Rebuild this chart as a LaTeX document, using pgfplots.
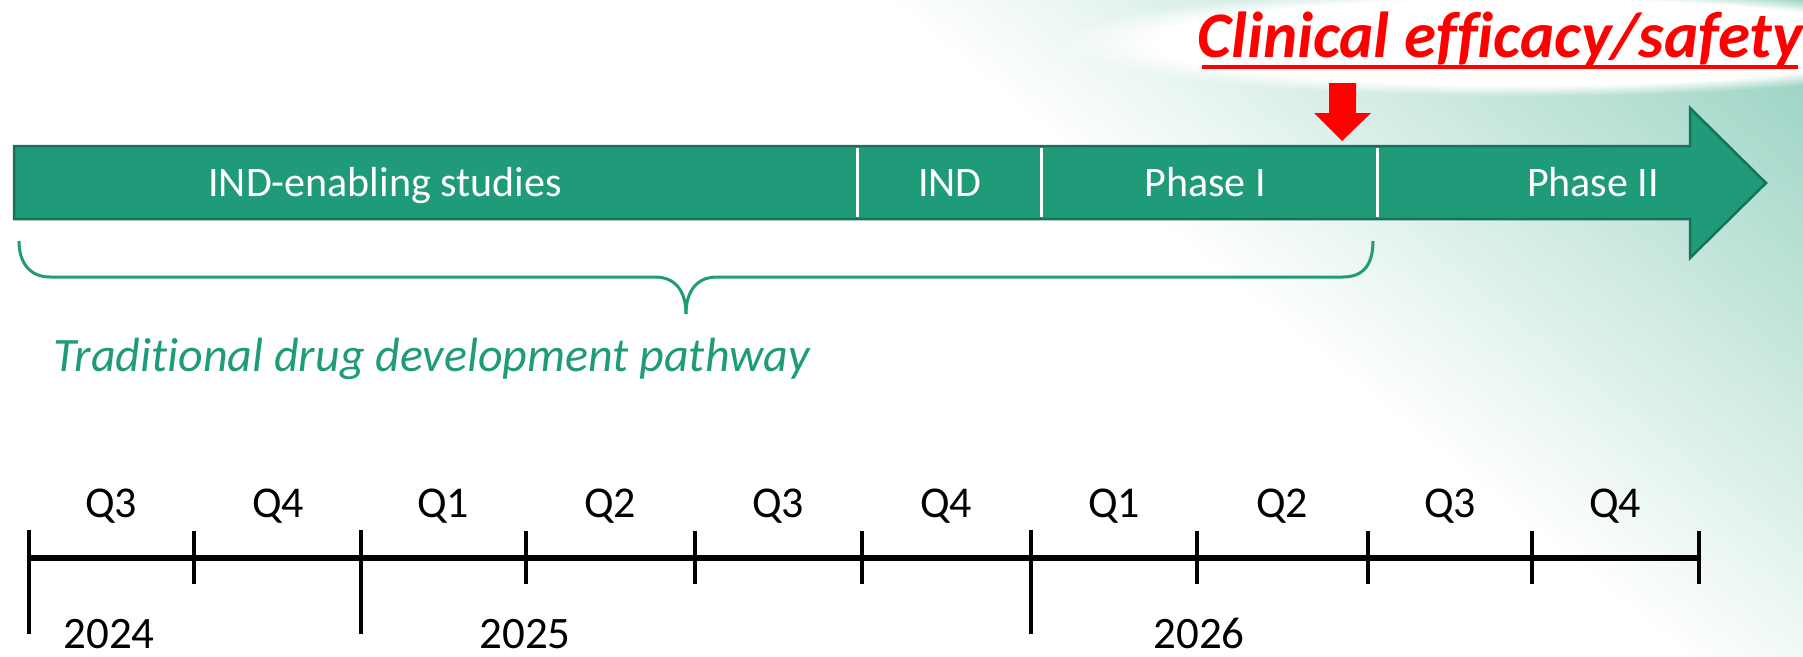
\documentclass[border=0pt]{standalone}
\usepackage{pgfplots}
\pgfplotsset{compat=1.18}
\usepackage{fontspec}
\setmainfont{Carlito}[Ligatures={NoCommon}]
\usetikzlibrary{fadings}
\definecolor{barfill}{RGB}{31,155,122}
\definecolor{bardraw}{RGB}{24,114,90}
\definecolor{mint}{RGB}{142,206,188}
\begin{document}
\begin{tikzpicture}
% background gradient in the upper right corner
\begin{scope}
\clip (0,0) rectangle (1803pt,656pt);
\begin{scope}[transform canvas={shift={(1120pt,656pt)}, rotate=-39.4}]
\shade[bottom color=white, top color=mint] (-2500pt,-150pt) rectangle (2500pt,460pt);
\end{scope}
\fill[white, path fading=circle with fuzzy edge 20 percent] (1060pt,560pt) rectangle (1990pt,668pt);
\fill[white, opacity=0.5, path fading=circle with fuzzy edge 20 percent] (1120pt,575pt) rectangle (1930pt,650pt);
\end{scope}
\begin{axis}[
  at={(0,0)}, anchor=south west,
  width=1803pt, height=656pt, scale only axis,
  xmin=0, xmax=1803, ymin=0, ymax=656, y dir=reverse,
  hide axis, clip=false,
  every node/.append style={inner sep=0pt, outer sep=0pt},
]
% main process arrow
\addplot[fill=barfill, draw=bardraw, line width=2.5pt, line join=miter]
  coordinates {(14,146) (1690,146) (1690,108) (1766,183) (1690,258) (1690,219) (14,219)} -- cycle;
% white dividers
\addplot[white, line width=3pt, unbounded coords=jump]
  coordinates {(857,148) (857,217) (nan,nan) (1041,148) (1041,217) (nan,nan) (1377,148) (1377,217)};
% red marker arrow
\addplot[fill=red, draw=none]
  coordinates {(1329,83) (1356,83) (1356,113) (1371,113) (1342,141) (1314,113) (1329,113)} -- cycle;
% brace
\draw[barfill, line width=3pt]
  (axis cs:19,241) .. controls (axis cs:19,263) and (axis cs:30,277) .. (axis cs:50,277)
  -- (axis cs:655,277) .. controls (axis cs:676,277) and (axis cs:686,292) .. (axis cs:686,314);
\draw[barfill, line width=3pt]
  (axis cs:686,314) .. controls (axis cs:686,292) and (axis cs:696,277) .. (axis cs:717,277)
  -- (axis cs:1343,277) .. controls (axis cs:1363,277) and (axis cs:1373,265) .. (axis cs:1373,241);
% timeline
\addplot[black, line width=5.5pt] coordinates {(29,558) (1699,558)};
\addplot[black, line width=4.5pt, unbounded coords=jump]
  coordinates {(194,531) (194,584) (nan,nan) (526,531) (526,584) (nan,nan)
               (695,531) (695,584) (nan,nan) (862,531) (862,584) (nan,nan)
               (1197,531) (1197,584) (nan,nan) (1368,531) (1368,584) (nan,nan)
               (1532,531) (1532,584) (nan,nan) (1699,531) (1699,584)};
\addplot[black, line width=4.5pt, unbounded coords=jump]
  coordinates {(29,530) (29,634) (nan,nan) (361,530) (361,634) (nan,nan) (1031,530) (1031,634)};
% texts in bar
\begin{scope}[every node/.style={anchor=base, inner sep=0pt, text=white, font=\fontsize{42}{50}\selectfont}]
\node at (axis cs:385,196) {IND-enabling studies};
\node at (axis cs:950,196) {IND};
\node at (axis cs:1205,196) {Phase I};
\node at (axis cs:1593,196) {Phase II};
\end{scope}
% title
\node[anchor=base, text=red, font=\fontsize{65}{70}\selectfont\bfseries\itshape] at (axis cs:1500,57) {Clinical efficacy/safety};
\draw[red, line width=4pt] (axis cs:1202,67) -- (axis cs:1798,67);
% brace label
\node[anchor=base west, text=barfill, font=\fontsize{48}{54}\selectfont\itshape] at (axis cs:50,371) {Traditional drug development pathway};
% quarter labels
\begin{scope}[every node/.style={anchor=base, inner sep=0pt, font=\fontsize{44}{50}\selectfont}]
\node at (axis cs:111,517) {Q3};
\node at (axis cs:278,517) {Q4};
\node at (axis cs:443,517) {Q1};
\node at (axis cs:610,517) {Q2};
\node at (axis cs:778,517) {Q3};
\node at (axis cs:946,517) {Q4};
\node at (axis cs:1114,517) {Q1};
\node at (axis cs:1282,517) {Q2};
\node at (axis cs:1450,517) {Q3};
\node at (axis cs:1615,517) {Q4};
\node[font=\fontsize{45}{50}\selectfont] at (axis cs:109,648) {2024};
\node[font=\fontsize{45}{50}\selectfont] at (axis cs:525,648) {2025};
\node[font=\fontsize{45}{50}\selectfont] at (axis cs:1199,648) {2026};
\end{scope}
\end{axis}
\pgfresetboundingbox
\useasboundingbox (0,0) rectangle (1803pt,656pt);
\end{tikzpicture}
\end{document}
